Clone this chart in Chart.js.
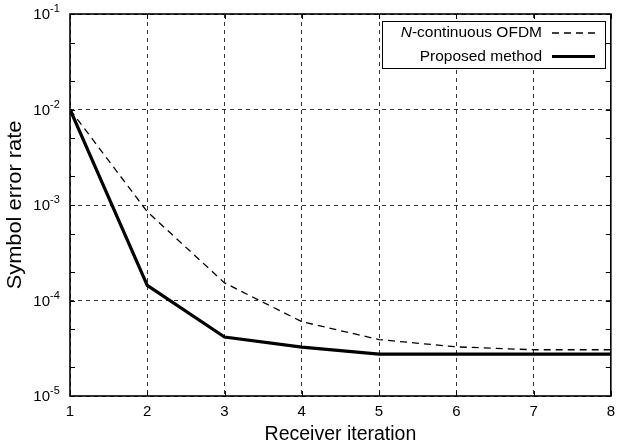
<!DOCTYPE html>
<html><head><meta charset="utf-8">
<script src="https://cdn.jsdelivr.net/npm/chart.js@4"></script>
<style>html,body{margin:0;padding:0;background:#fff}#wrap{width:622px;height:446px}</style>
</head><body><div id="wrap"><canvas id="c" width="622" height="446"></canvas></div>
<script>
const iterations = [1, 2, 3, 4, 5, 6, 7, 8];
const nContinuousSER = [1.0e-2, 8.5e-4, 1.53e-4, 6.0e-5, 3.9e-5, 3.27e-5, 3.05e-5, 3.05e-5];
const proposedSER = [1.0e-2, 1.44e-4, 4.15e-5, 3.25e-5, 2.75e-5, 2.75e-5, 2.75e-5, 2.75e-5];
const yMajorTicks = [1e-5, 1e-4, 1e-3, 1e-2, 1e-1];
const yMinorTicks = [2e-5, 5e-5, 2e-4, 5e-4, 2e-3, 5e-3, 2e-2, 5e-2];
const yTickExponents = ['-5', '-4', '-3', '-2', '-1'];
const seriesNames = ['N-continuous OFDM', 'Proposed method'];
const xTitle = 'Receiver iteration';
const yTitle = 'Symbol error rate';

const FONT = '"Liberation Sans", Arial, Helvetica, sans-serif';
const isMajor = v => yMajorTicks.some(m => Math.abs(Math.log10(v) - Math.log10(m)) < 1e-6);

const framePlugin = {
  id: 'frame',
  afterDraw(chart) {
    const ctx = chart.ctx, a = chart.chartArea;
    const xs = chart.scales.x, ys = chart.scales.y;
    ctx.save();
    // inward ticks
    ctx.strokeStyle = '#000'; ctx.lineWidth = 1;
    ctx.beginPath();
    ys.ticks.forEach(t => {
      const y = Math.round(ys.getPixelForValue(t.value)) + 0.5;
      ctx.moveTo(a.left, y); ctx.lineTo(a.left + 5, y);
      ctx.moveTo(a.right, y); ctx.lineTo(a.right - 5, y);
    });
    xs.ticks.forEach(t => {
      const x = Math.round(xs.getPixelForValue(t.value)) + 0.5;
      ctx.moveTo(x, a.top); ctx.lineTo(x, a.top + 5);
      ctx.moveTo(x, a.bottom); ctx.lineTo(x, a.bottom - 5);
    });
    ctx.stroke();
    // box
    ctx.lineWidth = 1.6;
    ctx.strokeRect(a.left, a.top, a.right - a.left, a.bottom - a.top);
    // y tick labels with superscripts
    ctx.fillStyle = '#000';
    yMajorTicks.forEach((v, i) => {
      const y = ys.getPixelForValue(v);
      ctx.font = '15px ' + FONT;
      ctx.textAlign = 'right'; ctx.textBaseline = 'middle';
      ctx.fillText('10', 50, y + 1);
      ctx.font = '11px ' + FONT;
      ctx.textAlign = 'left'; ctx.textBaseline = 'alphabetic';
      ctx.fillText(yTickExponents[i], 50, y - 2);
    });
    // y axis title (slightly stretched along its length, as in the reference)
    ctx.save();
    ctx.translate(16, (a.top + a.bottom) / 2);
    ctx.rotate(-Math.PI / 2);
    ctx.scale(1.12, 1);
    ctx.font = '19.5px ' + FONT;
    ctx.textAlign = 'center'; ctx.textBaseline = 'middle';
    ctx.fillText(yTitle, 0, 0);
    ctx.restore();
    // legend
    const lx = 382, ly = 21.5, lw = 223, lh = 47;
    ctx.fillStyle = '#fff';
    ctx.fillRect(lx, ly, lw, lh);
    ctx.lineWidth = 1; ctx.strokeStyle = '#000';
    ctx.strokeRect(lx + 0.5, ly, lw, lh);
    const rows = [33, 56.5];
    ctx.fillStyle = '#000';
    ctx.textBaseline = 'middle'; ctx.textAlign = 'left';
    ctx.font = '15.5px ' + FONT;
    const rest = seriesNames[0].slice(1);
    const wRest = ctx.measureText(rest).width;
    ctx.font = 'italic 15.5px ' + FONT;
    const wN = ctx.measureText(seriesNames[0][0]).width;
    const textRight = 542;
    ctx.fillText(seriesNames[0][0], textRight - wRest - wN, rows[0]);
    ctx.font = '15.5px ' + FONT;
    ctx.fillText(rest, textRight - wRest, rows[0]);
    ctx.textAlign = 'right';
    ctx.fillText(seriesNames[1], textRight, rows[1]);
    ctx.beginPath(); ctx.setLineDash([7, 5]); ctx.lineWidth = 1.3;
    ctx.moveTo(552, rows[0]); ctx.lineTo(595, rows[0]); ctx.stroke();
    ctx.beginPath(); ctx.setLineDash([]); ctx.lineWidth = 3;
    ctx.moveTo(552, rows[1]); ctx.lineTo(595, rows[1]); ctx.stroke();
    ctx.restore();
  }
};

new Chart(document.getElementById('c'), {
  type: 'line',
  data: {
    datasets: [
      {
        label: seriesNames[0],
        data: iterations.map((x, i) => ({ x, y: nContinuousSER[i] })),
        borderColor: '#000', borderWidth: 1.3, borderDash: [7, 5],
        pointRadius: 0, tension: 0, fill: false
      },
      {
        label: seriesNames[1],
        data: iterations.map((x, i) => ({ x, y: proposedSER[i] })),
        borderColor: '#000', borderWidth: 3.2,
        pointRadius: 0, tension: 0, fill: false
      }
    ]
  },
  options: {
    responsive: false,
    devicePixelRatio: 1,
    animation: false,
    layout: { padding: { top: 14, right: 8, left: 0, bottom: 0 } },
    plugins: { legend: { display: false }, tooltip: { enabled: false } },
    scales: {
      x: {
        type: 'linear', min: 1, max: 8,
        afterFit: s => { s.height = 50; },
        ticks: { stepSize: 1, color: '#000', font: { family: FONT, size: 15 }, padding: 7 },
        grid: { color: '#333', lineWidth: 1, drawTicks: false },
        border: { display: false, dash: [4, 4] },
        title: { display: true, text: xTitle, color: '#000', font: { family: FONT, size: 19.5 }, padding: { top: 0, bottom: 0 } }
      },
      y: {
        type: 'logarithmic', min: 1e-5, max: 1e-1,
        afterFit: s => { s.width = 70; },
        afterBuildTicks: s => {
          s.ticks = yMajorTicks.concat(yMinorTicks).sort((a, b) => a - b).map(v => ({ value: v, major: isMajor(v) }));
        },
        ticks: { display: false },
        grid: {
          color: c => (c.tick && isMajor(c.tick.value)) ? '#333' : 'rgba(0,0,0,0)',
          lineWidth: 1, drawTicks: false
        },
        border: { display: false, dash: [4, 4] },
        title: { display: false, text: yTitle }
      }
    }
  },
  plugins: [framePlugin]
});
</script>
</body></html>
